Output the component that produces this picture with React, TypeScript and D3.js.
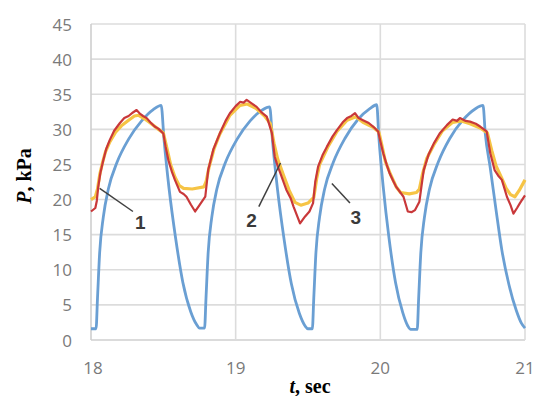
import React from "react";
import * as d3 from "d3";

const xTicks = [18, 19, 20, 21];
const yTicks = [0, 5, 10, 15, 20, 25, 30, 35, 40, 45];

// curve 3 (blue)
const blueSeries: [number, number][] = [
  [18.0, 1.6], [18.035, 1.6], [18.045, 6], [18.06, 12.5], [18.085, 17.5], [18.12, 21.5], [18.18, 25.3], [18.26, 28.6], [18.35, 31.2], [18.43, 32.8], [18.485, 33.4],
  [18.505, 28.5], [18.54, 21.5], [18.585, 14.5], [18.635, 8.2], [18.69, 4.0], [18.73, 2.2], [18.75, 1.7], [18.785, 1.7],
  [18.795, 6], [18.81, 12.5], [18.835, 17.5], [18.87, 21.5], [18.93, 25.3], [19.01, 28.6], [19.1, 31.2], [19.18, 32.7], [19.235, 33.2],
  [19.255, 28.3], [19.29, 21.3], [19.335, 14.3], [19.385, 8.0], [19.44, 3.8], [19.48, 2.0], [19.5, 1.6], [19.53, 1.6],
  [19.54, 6], [19.555, 12.5], [19.58, 17.5], [19.615, 21.5], [19.675, 25.3], [19.755, 28.7], [19.845, 31.4], [19.925, 32.9], [19.975, 33.5],
  [19.99, 28.8], [20.02, 21.8], [20.06, 14.5], [20.105, 8.2], [20.155, 3.9], [20.19, 2.0], [20.21, 1.5], [20.255, 1.5],
  [20.265, 6], [20.28, 12.5], [20.305, 17.5], [20.34, 21.5], [20.4, 25.3], [20.48, 28.7], [20.57, 31.3], [20.655, 32.9], [20.71, 33.4],
  [20.725, 29.5], [20.76, 24.5], [20.8, 18.5], [20.84, 12.8], [20.89, 7.8], [20.94, 4.2], [20.975, 2.4], [21.0, 1.7],
];

// curve 2 (yellow)
const yellowSeries: [number, number][] = [
  [18.0, 20.0], [18.03, 20.4], [18.045, 21.5], [18.06, 23.5], [18.08, 25.3], [18.1, 26.8], [18.13, 28.2], [18.17, 29.6], [18.21, 30.5], [18.26, 31.3], [18.3, 31.9], [18.33, 32.0], [18.37, 31.5], [18.41, 30.9], [18.46, 30.1], [18.5, 29.5],
  [18.525, 27.3], [18.55, 25.0], [18.58, 23.2], [18.61, 22.0], [18.64, 21.6], [18.7, 21.5], [18.78, 21.8],
  [18.795, 22.5], [18.815, 24.5], [18.85, 27.2], [18.89, 29.3], [18.96, 32.0], [19.03, 33.4], [19.08, 33.6], [19.14, 33.0], [19.2, 31.9], [19.24, 30.8],
  [19.265, 28.0], [19.29, 25.8], [19.33, 23.5], [19.37, 21.3], [19.41, 19.6], [19.45, 19.2], [19.5, 19.5], [19.54, 20.3],
  [19.56, 23.0], [19.58, 25.0], [19.64, 27.6], [19.7, 29.7], [19.77, 31.3], [19.83, 31.8], [19.88, 31.0], [19.95, 30.3], [19.99, 29.6],
  [20.01, 27.8], [20.035, 25.4], [20.07, 23.6], [20.11, 21.8], [20.14, 21.0], [20.2, 20.8], [20.25, 21.0], [20.27, 21.5],
  [20.29, 23.5], [20.32, 25.8], [20.37, 27.8], [20.43, 29.8], [20.5, 31.0], [20.56, 31.2], [20.62, 30.8], [20.69, 30.2], [20.74, 29.5],
  [20.77, 27.0], [20.8, 24.8], [20.84, 23.0], [20.87, 21.6], [20.9, 20.7], [20.93, 20.4], [20.96, 21.3], [21.0, 22.8],
];

// curve 1 (red)
const redSeries: [number, number][] = [
  [18.0, 18.3], [18.03, 18.8], [18.04, 19.8], [18.05, 21.8], [18.065, 23.8], [18.085, 25.6], [18.105, 27.2], [18.13, 28.5], [18.16, 29.8], [18.2, 30.9], [18.23, 31.6], [18.26, 31.9], [18.29, 32.4], [18.315, 32.75],
  [18.34, 32.2], [18.36, 31.9], [18.385, 31.6], [18.41, 31.0], [18.44, 30.4], [18.465, 30.1], [18.5, 29.4], [18.515, 27.6], [18.535, 25.6], [18.56, 23.9], [18.58, 22.8], [18.615, 21.1], [18.64, 20.8], [18.66, 20.4], [18.69, 19.3], [18.72, 18.3], [18.75, 19.2], [18.79, 20.4],
  [18.81, 24.2], [18.845, 27.1], [18.87, 28.4], [18.89, 29.4], [18.93, 31.2], [18.96, 32.3], [19.0, 33.3], [19.03, 33.9], [19.055, 33.8], [19.076, 34.2], [19.11, 33.7], [19.145, 33.2], [19.18, 32.4], [19.215, 31.8],
  [19.25, 29.5], [19.27, 26.1], [19.29, 24.8], [19.31, 23.7], [19.35, 21.4], [19.38, 20.2], [19.4, 19.0], [19.445, 16.6], [19.48, 17.6], [19.51, 18.3], [19.535, 19.5],
  [19.55, 22.5], [19.57, 24.7], [19.6, 26.3], [19.63, 27.5], [19.67, 29.0], [19.7, 29.9], [19.74, 31.0], [19.77, 31.6], [19.8, 31.9], [19.825, 32.3], [19.85, 31.6], [19.88, 31.3], [19.92, 30.9], [19.95, 30.4], [19.985, 29.7],
  [20.0, 28.3], [20.02, 26.6], [20.045, 24.9], [20.065, 23.7], [20.09, 22.6], [20.11, 21.8], [20.16, 20.4], [20.19, 18.3], [20.215, 18.2], [20.24, 18.5], [20.27, 19.7],
  [20.285, 22.0], [20.3, 24.2], [20.335, 26.5], [20.37, 28.0], [20.41, 29.4], [20.46, 30.6], [20.5, 31.4], [20.53, 31.2], [20.55, 31.6], [20.59, 31.2], [20.62, 31.1], [20.66, 30.8], [20.69, 30.4], [20.735, 29.7],
  [20.76, 26.6], [20.79, 24.2], [20.815, 23.4], [20.84, 22.8], [20.875, 20.4], [20.9, 19.2], [20.92, 18.0], [20.945, 18.8], [20.965, 19.5], [21.0, 20.6],
];

// annotations: label, leader start (t, v), leader end (t, v), text position (t, v)
const annotLabels = ["1", "2", "3"];
const annotFrom: [number, number][] = [[18.06, 21.6], [19.31, 25.2], [19.665, 22.3]];
const annotTo: [number, number][] = [[18.29, 18.3], [19.16, 19.0], [19.79, 19.5]];
const annotText: [number, number][] = [[18.34, 16.8], [19.11, 17.0], [19.83, 17.4]];

export default function App() {
  const W = 542, H = 396;
  const x = d3.scaleLinear().domain([18, 21]).range([91, 525]);
  const y = d3.scaleLinear().domain([0, 45]).range([340, 24]);

  const lineLin = d3.line<[number, number]>().x(d => x(d[0])).y(d => y(d[1]));
  const lineSmooth = d3.line<[number, number]>().x(d => x(d[0])).y(d => y(d[1])).curve(d3.curveMonotoneX);

  const tickFont = "'Open Sans', 'Noto Sans', sans-serif";
  const serif = "'Liberation Serif', 'DejaVu Serif', serif";

  return (
    <svg width={W} height={H} style={{ position: "absolute", left: 0, top: 0, background: "#fff" }}>
      {/* horizontal gridlines */}
      {yTicks.map(v => (
        <line key={"h" + v} x1={x(18)} x2={x(21)} y1={y(v)} y2={y(v)}
          stroke={v === 0 ? "#cfcfcf" : "#dcdcdc"} strokeWidth={1.6} />
      ))}
      {/* vertical gridlines */}
      {xTicks.map(t => (
        <line key={"v" + t} x1={x(t)} x2={x(t)} y1={y(45)} y2={y(0)}
          stroke={t === 18 ? "#cfcfcf" : "#dcdcdc"} strokeWidth={1.6} />
      ))}

      {/* y tick labels */}
      {yTicks.map(v => (
        <text key={"yl" + v} x={72} y={y(v)} textAnchor="end" dominantBaseline="central"
          fontFamily={tickFont} fontSize={17} fill="#7a7a7a">{v}</text>
      ))}
      {/* x tick labels */}
      {xTicks.map(t => (
        <text key={"xl" + t} x={x(t) + (t === 18 ? 2 : 0)} y={367} textAnchor="middle" dominantBaseline="central"
          fontFamily={tickFont} fontSize={17} fill="#7a7a7a">{t}</text>
      ))}

      {/* series */}
      <path d={lineSmooth(blueSeries) || ""} fill="none" stroke="#6a9fd3" strokeWidth={2.8} strokeLinejoin="round" />
      <path d={lineLin(yellowSeries) || ""} fill="none" stroke="#f6c445" strokeWidth={3.2} strokeLinejoin="round" />
      <path d={lineLin(redSeries) || ""} fill="none" stroke="#c9383a" strokeWidth={2.2} strokeLinejoin="round" />

      {/* annotations */}
      {annotLabels.map((lab, i) => (
        <g key={"a" + lab}>
          <line x1={x(annotFrom[i][0])} y1={y(annotFrom[i][1])} x2={x(annotTo[i][0])} y2={y(annotTo[i][1])}
            stroke="#404040" strokeWidth={1.5} />
          <text x={x(annotText[i][0])} y={y(annotText[i][1])} textAnchor="middle" dominantBaseline="central"
            fontFamily="'Liberation Sans', Arial, sans-serif" fontWeight="bold" fontSize={19} fill="#3a3a3a">{lab}</text>
        </g>
      ))}

      {/* axis titles */}
      <text transform={`translate(24,176) rotate(-90)`} textAnchor="middle" dominantBaseline="central"
        fontFamily={serif} fontWeight="bold" fontSize={20} fill="#000">
        <tspan fontStyle="italic">P</tspan>, kPa
      </text>
      <text x={310} y={386} textAnchor="middle" dominantBaseline="central"
        fontFamily={serif} fontWeight="bold" fontSize={20} fill="#000">
        <tspan fontStyle="italic">t</tspan>, sec
      </text>
    </svg>
  );
}
